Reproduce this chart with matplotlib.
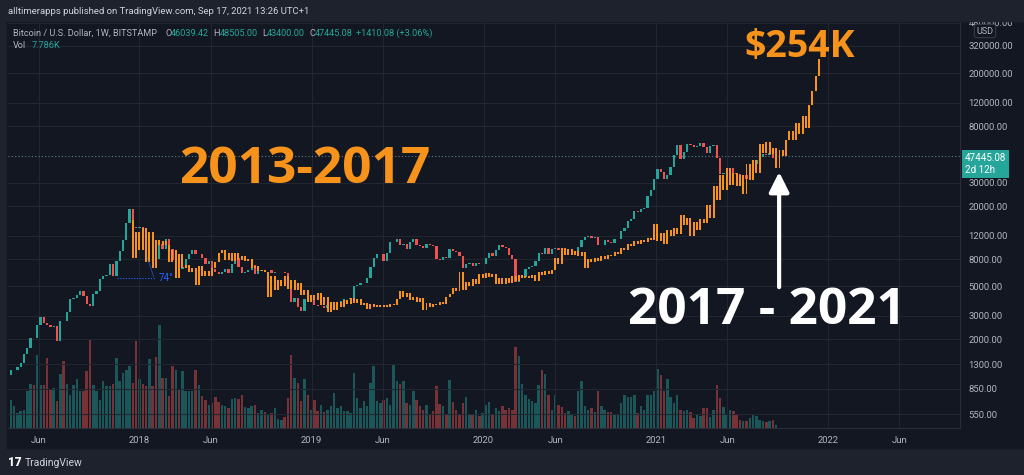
import numpy as np
import pandas as pd
import matplotlib
matplotlib.use("Agg")
import matplotlib.pyplot as plt
import matplotlib.dates as mdates
from matplotlib.patches import Rectangle
from matplotlib.ticker import NullLocator

plt.rcParams['font.family'] = ['Roboto', 'DejaVu Sans']

BG = "#131722"
PANEL = "#1e222d"
GRID = "#222631"
UP = "#26a69a"
DOWN = "#ef5350"
ORANGE = "#f7931a"
TXT = "#b2b5be"

# BTCUSD weekly closes (Bitstamp); first value = close of the week before the first candle
btc_close = [
    1080,
    # 2017 (from Apr 3)
    1170, 1170, 1250, 1340, 1560, 1730, 2050, 2040, 2550, 2950,
    2650, 2580, 2500, 2510, 1930, 2750, 2740, 3240, 4050, 4080,
    4340, 4580, 4220, 3710, 3590, 4350, 4600, 5700, 6020, 6140,
    7350, 5950, 7750, 9300, 11200, 15000, 19000, 13900, 13850,
    # 2018
    14000, 13600, 11600, 11600, 8200, 8100, 10400, 9600, 11400, 9500,
    7900, 8500, 6800, 7000, 8000, 8800, 9400, 8700, 8700, 8200,
    7370, 7700, 6750, 6450, 6150, 6400, 6750, 6350, 7400, 8200,
    7000, 6300, 6400, 6700, 7200, 6250, 6500, 6700, 6600, 6600,
    6300, 6400, 6400, 6400, 6350, 5600, 3800, 4100, 3500, 3250,
    4000, 3900, 4050,
    # 2019
    3600, 3550, 3550, 3450, 3650, 3650, 3800, 3850, 3900, 4000,
    4000, 4100, 5000, 5100, 5300, 5300, 5800, 7000, 8200, 8700,
    8700, 7700, 8900, 10700, 10800, 11400, 10200, 10500, 9500, 10800,
    11400, 10300, 10100, 9800, 10400, 10300, 10000, 8050, 7900, 8300,
    8200, 9500, 9200, 9000, 8500, 6900, 7400, 7500, 7100, 7500,
    7400, 7400,
    # 2020
    8200, 8900, 8400, 9400, 10150, 9900, 9700, 8550, 8000, 5400,
    5800, 5900, 6800, 7000, 7100, 7700, 8900, 8700, 9700, 8700,
    9500, 9700, 9400, 9300, 9000, 9100, 9250, 9200, 9900, 11100,
    11700, 11900, 11650, 11700, 10300, 10300, 11100, 10750, 10550, 11350,
    11400, 13050, 13800, 15500, 16000, 18400, 18200, 19100, 19300, 23800,
    26300, 32100,
    # 2021
    38200, 36000, 32300, 34300, 39200, 48600, 57500, 45200, 51000, 59000,
    57500, 55800, 57000, 60000, 56200, 50100, 56600, 58200, 46400, 34700,
    35600, 35800, 39000, 35600, 34700, 34200, 34300, 31800, 34300, 41500,
    44600, 47000, 49300, 48800, 49900, 46040, 47445.08,
]

# weekly volume, thousand BTC
btc_volume = [
    28, 22, 15, 17, 18, 37, 44, 43, 72, 43,
    43, 69, 38, 40, 27, 53, 66, 44, 33, 43,
    49, 37, 37, 56, 88, 43, 37, 28, 47, 42,
    42, 44, 69, 47, 54, 57, 61, 45, 86, 49,
    44, 42, 68, 42, 70, 102, 50, 50, 32, 61,
    57, 39, 56, 37, 37, 37, 57, 43,
    32, 28, 23, 25, 31, 26, 23, 22, 20, 29,
    30, 29, 33, 21, 20, 22, 23, 15, 18, 16,
    13, 15, 20, 9, 8, 11, 30, 72, 50, 45, 27,
    49, 33, 18, 28, 17, 23, 16, 18, 22, 35,
    20, 22, 17, 17, 15, 54, 30, 20, 27, 22,
    45, 61, 27, 25, 28, 30, 23,
    63, 47, 44, 47, 25, 23, 37, 28, 22, 18,
    23, 14, 17, 42, 24, 22, 13, 48, 26, 18,
    14, 25, 31, 14, 13, 18, 12, 15, 23, 26,
    14, 20, 17, 22, 18, 20, 18, 80, 71, 44,
    33, 29, 27, 25, 43, 57, 53, 33, 18, 33,
    23, 21, 15, 17, 13, 12, 37,
    47, 22, 18, 20, 16, 37, 22, 18, 16, 16,
    13, 13, 25, 33, 31, 31, 33, 15, 22, 18,
    33, 33, 37, 58, 52, 37, 49, 31, 25, 33,
    18, 17, 18, 16, 10, 14, 12, 20, 20, 11,
    18, 43, 30, 21, 14, 18, 17, 14, 8, 7, 7,
    10, 13, 12, 8, 7, 6, 7, 8, 3,
]

# 2013-2017 cycle pasted from Dec 2017 on (weekly closes as drawn); first value = anchor
fractal_close = [
    15800, 8200, 12800, 9400, 13700, 7600, 12800, 6900, 11200, 10200,
    10900, 10300, 7600, 9400, 5800, 8800, 6900, 7300, 6400, 6900,
    5100, 7100, 6000, 6500, 6000, 6900, 7600, 8900, 9400, 7900,
    8900, 7800, 8900, 7900, 8400, 7800, 8100, 6900, 7100, 6500,
    6600, 6400, 4200, 6000, 4700, 5600, 5000, 6000, 4800, 5600,
    4700, 5300, 4300, 4700, 3800, 4300, 3950, 4500, 3600, 4200,
    3200, 3800, 3300, 3850, 3500, 3950, 3700, 4100, 3750, 4000,
    3600, 3750, 3400, 3700, 3500, 3600, 3500, 3600,
    3500, 3700, 3600, 4000, 4600, 4200, 4500, 3950, 4200, 3800,
    4100, 3300, 3750, 3500, 3700, 3600, 3800, 3700, 4200, 4400,
    4900, 4600, 6400, 4700, 5400, 5000, 5700, 5200, 6200, 5800,
    6300, 5900, 6200, 5200, 5800, 5200, 5800, 5300, 6000, 5500,
    6100, 5800, 6000, 5800, 6100, 5500, 6400, 6100, 6500, 6200,
    6600, 8200, 7400, 9700, 8600, 9600, 8600, 9200, 8500, 9100,
    6900, 8100, 7600, 8200, 7800, 8500, 8100, 8600, 8500, 9100,
    8800, 9700, 9400, 10400, 10000, 10900, 10400, 11200, 10700, 11600,
    11200, 14600, 10900, 12600, 10500, 13300, 12000, 13700, 12400, 17200,
    14400, 16300, 12000, 15200, 13300, 16000, 14900, 20300, 16300, 28500,
    22300, 34500, 26500, 38900, 29000, 35800, 28500, 34500, 24700, 41200,
    31500, 44600, 35800, 59000, 50000, 61000, 49000, 55000, 38900, 53000,
    48000, 63000, 73000, 63000, 84000, 70000, 95000, 77000, 115000, 146000,
    192000, 254000,
]

price_ticks = [550, 850, 1300, 2000, 3000, 5000, 8000, 12000, 20000, 30000,
               80000, 120000, 200000, 320000, 480000]
date_ticks = ["2017-06-01", "2018-01-01", "2018-06-01", "2019-01-01", "2019-06-01",
              "2020-01-01", "2020-06-01", "2021-01-01", "2021-06-01", "2022-01-01",
              "2022-06-01"]
date_labels = ["Jun", "2018", "Jun", "2019", "Jun", "2020", "Jun", "2021", "Jun",
               "2022", "Jun"]

weeks = mdates.date2num(pd.date_range("2017-04-03", periods=len(btc_close) - 1, freq="7D"))
fr_weeks = mdates.date2num(pd.date_range("2017-12-18", periods=len(fractal_close) - 1, freq="7D"))

o = np.array(btc_close[:-1], dtype=float)
c = np.array(btc_close[1:], dtype=float)
colors = np.where(c >= o, UP, DOWN)
fo = np.array(fractal_close[:-1], dtype=float)
fc = np.array(fractal_close[1:], dtype=float)

fig = plt.figure(figsize=(10.24, 4.75), dpi=100, facecolor=PANEL)
fig.patches.append(Rectangle((7 / 1024, 27 / 475), 1017 / 1024, 427 / 475,
                             transform=fig.transFigure, color=BG, zorder=-10))

rect = [8 / 1024, 47 / 475, 952 / 1024, 407 / 475]
axv = fig.add_axes(rect)
axv.set_facecolor(BG)
ax = fig.add_axes(rect, sharex=axv)
ax.patch.set_alpha(0)

# volume pane
axv.bar(weeks, btc_volume, width=5.2, color=colors, alpha=0.45, linewidth=0)
axv.set_ylim(0, 403)
axv.set_yticks([])
axv.tick_params(axis="x", labelbottom=False, length=0)
for s in axv.spines.values():
    s.set_visible(False)

# price pane
ax.set_yscale("log")
ax.bar(weeks, c - o, bottom=o, width=4.8, color=colors, linewidth=0, zorder=3)
ax.bar(fr_weeks, fc - fo, bottom=fo, width=4.2, color=ORANGE, linewidth=0, zorder=4)
ax.axhline(btc_close[-1], color="#5c7e84", lw=0.8, ls=(0, (1, 2)), zorder=2)

ax.set_ylim(432, 493000)
ax.set_xlim(mdates.datestr2num("2017-03-28"), mdates.datestr2num("2022-10-08"))
ax.yaxis.tick_right()
ax.set_yticks(price_ticks)
ax.set_yticklabels([f"{v:.2f}" for v in price_ticks])
ax.yaxis.set_minor_locator(NullLocator())
ax.set_xticks(mdates.datestr2num(date_ticks))
ax.set_xticklabels(date_labels)
ax.tick_params(axis="y", length=0, pad=6, labelsize=6.8, colors=TXT)
ax.tick_params(axis="x", length=0, pad=6, labelsize=6.8, colors=TXT)
ax.grid(True, color=GRID, lw=0.8, zorder=0)
for k in ("top", "left"):
    ax.spines[k].set_visible(False)
for k in ("bottom", "right"):
    ax.spines[k].set_color("#2a2e39")

# current price tag
ax.annotate("47445.08\n2d 12h", xy=(1.0, btc_close[-1]), xycoords=("axes fraction", "data"),
            xytext=(5, 3), textcoords="offset pixels", ha="left", va="top",
            fontsize=7, color="white", linespacing=1.25, annotation_clip=False,
            bbox=dict(boxstyle="square,pad=0.3", fc=UP, ec="none"))

# trend-angle drawing
ax.plot([0.1145, 0.154], [0.369, 0.369], transform=ax.transAxes, color="#2962ff",
        lw=0.8, ls=(0, (1, 1.5)), zorder=5)
ax.plot([0.146, 0.153], [0.42, 0.372], transform=ax.transAxes, color="#2962ff",
        lw=0.6, alpha=0.7, zorder=5)
ax.text(0.158, 0.369, "74°", transform=ax.transAxes, color="#2962ff", fontsize=7,
        va="center", ha="left", zorder=5)

# big annotations
big = dict(family=["Open Sans", "DejaVu Sans"], fontweight="bold", ha="center",
           va="baseline", transform=ax.transAxes, zorder=6)
ax.text(0.312, 0.602, "2013-2017", color=ORANGE, fontsize=37, **big)
ax.text(0.832, 0.9115, "$254K", color=ORANGE, fontsize=27, **big)
ax.text(0.797, 0.2555, "2017 - 2021", color="white", fontsize=37, **big)
ax.annotate("", xy=(0.81, 0.629), xytext=(0.81, 0.346), xycoords="axes fraction",
            arrowprops=dict(arrowstyle="-|>,head_length=0.6,head_width=0.3",
                            mutation_scale=20, lw=3, color="white",
                            shrinkA=0, shrinkB=0), zorder=6)

# header band (covers the top of the price scale like the widget does)
fig.patches.append(Rectangle((0, 1 - 21 / 475), 1, 21 / 475, transform=fig.transFigure,
                             color=PANEL, zorder=5))
fig.text(8 / 1024, 1 - 11 / 475, "alltimerapps published on TradingView.com, Sep 17, 2021 13:26 UTC+1",
         color="#d1d4dc", fontsize=6.8, va="center", zorder=6)
fig.text(985 / 1024, 1 - 31 / 475, "USD", color=TXT, fontsize=6.5, ha="center", va="center",
         zorder=6, bbox=dict(boxstyle="round,pad=0.25", fc=BG, ec="#434651", lw=0.6))

hy = 1 - 33 / 475
fig.text(13 / 1024, hy, "Bitcoin / U.S. Dollar, 1W, BITSTAMP", color=TXT, fontsize=6.6, va="center")
for lx, lab, vx, val in [(165, "O", 171, "46039.42"), (213, "H", 220, "48505.00"),
                         (262, "L", 267, "43400.00"), (309, "C", 315, "47445.08")]:
    fig.text(lx / 1024, hy, lab, color=TXT, fontsize=6.6, va="center")
    fig.text(vx / 1024, hy, val, color=UP, fontsize=6.6, va="center")
fig.text(356 / 1024, hy, "+1410.08 (+3.06%)", color=UP, fontsize=6.6, va="center")
fig.text(13 / 1024, 1 - 45 / 475, "Vol", color=TXT, fontsize=6.6, va="center")
fig.text(32 / 1024, 1 - 45 / 475, "7.786K", color=UP, fontsize=6.6, va="center")

# footer logo
fig.text(8 / 1024, 1 - 463 / 475, "17", color="white", fontsize=8.5, fontweight="black",
         va="center")
fig.text(25 / 1024, 1 - 463 / 475, "TradingView", color="#d1d4dc", fontsize=7.5, va="center")

fig.savefig("out.png", dpi=100, facecolor=fig.get_facecolor())
